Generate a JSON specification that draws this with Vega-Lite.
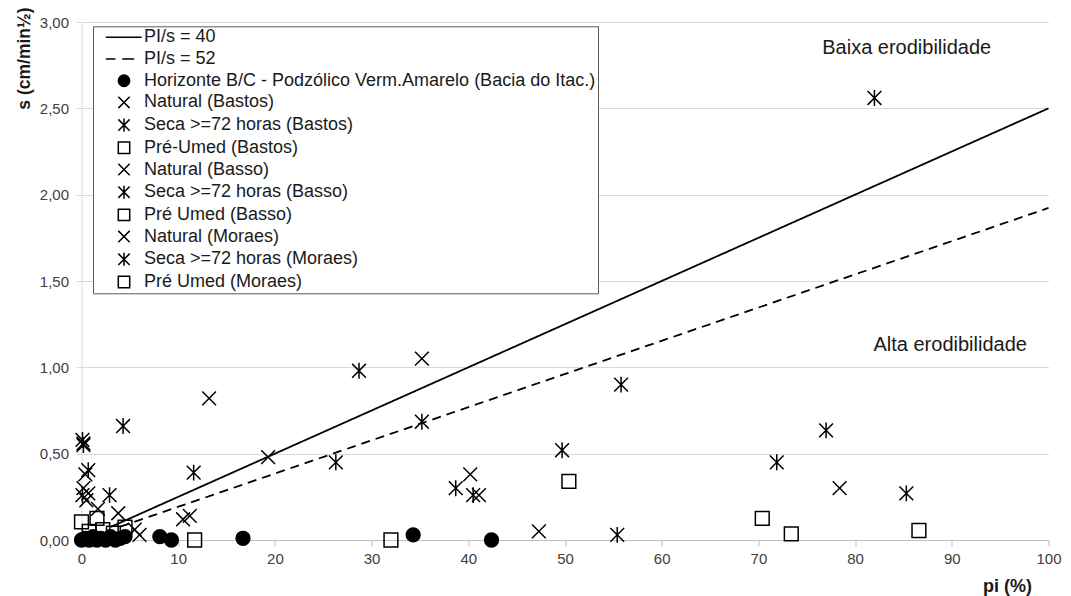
{
  "$schema": "https://vega.github.io/schema/vega-lite/v6.json",
  "width": 967,
  "height": 518,
  "autosize": "none",
  "padding": {"left": 81.5, "top": 22, "right": 22.5, "bottom": 56},
  "background": "white",
  "config": {
    "font": "Liberation Sans",
    "view": {"stroke": null}
  },
  "datasets": {
    "lines": [
      {"serie": "PI/s = 40", "pi": 3, "s": 0.075},
      {"serie": "PI/s = 40", "pi": 100, "s": 2.5},
      {"serie": "PI/s = 52", "pi": 4, "s": 0.077},
      {"serie": "PI/s = 52", "pi": 100, "s": 1.923}
    ],
    "points": [
      {"serie": "Natural (Bastos)", "pi": 35.2, "s": 1.05},
      {"serie": "Natural (Bastos)", "pi": 19.3, "s": 0.48},
      {"serie": "Natural (Bastos)", "pi": 40.2, "s": 0.38},
      {"serie": "Natural (Bastos)", "pi": 13.2, "s": 0.82},
      {"serie": "Natural (Bastos)", "pi": 78.4, "s": 0.30},
      {"serie": "Natural (Bastos)", "pi": 0.4, "s": 0.38},
      {"serie": "Natural (Basso)", "pi": 41.1, "s": 0.26},
      {"serie": "Natural (Basso)", "pi": 47.3, "s": 0.05},
      {"serie": "Natural (Basso)", "pi": 10.5, "s": 0.12},
      {"serie": "Natural (Basso)", "pi": 11.2, "s": 0.14},
      {"serie": "Natural (Basso)", "pi": 6.0, "s": 0.03},
      {"serie": "Natural (Basso)", "pi": 0.2, "s": 0.30},
      {"serie": "Natural (Moraes)", "pi": 3.8, "s": 0.155},
      {"serie": "Natural (Moraes)", "pi": 1.7, "s": 0.18},
      {"serie": "Natural (Moraes)", "pi": 0.5, "s": 0.23},
      {"serie": "Natural (Moraes)", "pi": 0.7, "s": 0.27},
      {"serie": "Natural (Moraes)", "pi": 0.2, "s": 0.56},
      {"serie": "Natural (Moraes)", "pi": 5.5, "s": 0.06},
      {"serie": "Seca >=72 horas (Bastos)", "pi": 82, "s": 2.56},
      {"serie": "Seca >=72 horas (Bastos)", "pi": 28.7, "s": 0.98},
      {"serie": "Seca >=72 horas (Bastos)", "pi": 35.2, "s": 0.685},
      {"serie": "Seca >=72 horas (Bastos)", "pi": 26.3, "s": 0.45},
      {"serie": "Seca >=72 horas (Bastos)", "pi": 55.8, "s": 0.90},
      {"serie": "Seca >=72 horas (Bastos)", "pi": 0.1, "s": 0.58},
      {"serie": "Seca >=72 horas (Bastos)", "pi": 0.7, "s": 0.405},
      {"serie": "Seca >=72 horas (Basso)", "pi": 38.7, "s": 0.30},
      {"serie": "Seca >=72 horas (Basso)", "pi": 40.5, "s": 0.26},
      {"serie": "Seca >=72 horas (Basso)", "pi": 49.7, "s": 0.52},
      {"serie": "Seca >=72 horas (Basso)", "pi": 55.4, "s": 0.03},
      {"serie": "Seca >=72 horas (Basso)", "pi": 11.6, "s": 0.39},
      {"serie": "Seca >=72 horas (Basso)", "pi": 0.2, "s": 0.55},
      {"serie": "Seca >=72 horas (Moraes)", "pi": 77.0, "s": 0.635},
      {"serie": "Seca >=72 horas (Moraes)", "pi": 71.9, "s": 0.45},
      {"serie": "Seca >=72 horas (Moraes)", "pi": 85.3, "s": 0.27},
      {"serie": "Seca >=72 horas (Moraes)", "pi": 4.3, "s": 0.66},
      {"serie": "Seca >=72 horas (Moraes)", "pi": 2.9, "s": 0.26},
      {"serie": "Seca >=72 horas (Moraes)", "pi": 0.1, "s": 0.26},
      {"serie": "Pré-Umed (Bastos)", "pi": 32.0, "s": 0.0},
      {"serie": "Pré-Umed (Bastos)", "pi": 50.4, "s": 0.34},
      {"serie": "Pré-Umed (Bastos)", "pi": 11.7, "s": 0.0},
      {"serie": "Pré-Umed (Bastos)", "pi": 0.0, "s": 0.105},
      {"serie": "Pré Umed (Basso)", "pi": 70.4, "s": 0.125},
      {"serie": "Pré Umed (Basso)", "pi": 73.4, "s": 0.035},
      {"serie": "Pré Umed (Basso)", "pi": 1.6, "s": 0.125},
      {"serie": "Pré Umed (Basso)", "pi": 0.8, "s": 0.05},
      {"serie": "Pré Umed (Moraes)", "pi": 86.6, "s": 0.055},
      {"serie": "Pré Umed (Moraes)", "pi": 4.5, "s": 0.075},
      {"serie": "Pré Umed (Moraes)", "pi": 2.2, "s": 0.06},
      {"serie": "Pré Umed (Moraes)", "pi": 3.3, "s": 0.04},
      {"serie": "Horizonte B/C - Podzólico Verm.Amarelo (Bacia do Itac.)", "pi": 0.0, "s": 0.0},
      {"serie": "Horizonte B/C - Podzólico Verm.Amarelo (Bacia do Itac.)", "pi": 0.4, "s": 0.01},
      {"serie": "Horizonte B/C - Podzólico Verm.Amarelo (Bacia do Itac.)", "pi": 0.8, "s": 0.0},
      {"serie": "Horizonte B/C - Podzólico Verm.Amarelo (Bacia do Itac.)", "pi": 1.2, "s": 0.02},
      {"serie": "Horizonte B/C - Podzólico Verm.Amarelo (Bacia do Itac.)", "pi": 1.6, "s": 0.0},
      {"serie": "Horizonte B/C - Podzólico Verm.Amarelo (Bacia do Itac.)", "pi": 2.0, "s": 0.01},
      {"serie": "Horizonte B/C - Podzólico Verm.Amarelo (Bacia do Itac.)", "pi": 2.5, "s": 0.0},
      {"serie": "Horizonte B/C - Podzólico Verm.Amarelo (Bacia do Itac.)", "pi": 3.0, "s": 0.02},
      {"serie": "Horizonte B/C - Podzólico Verm.Amarelo (Bacia do Itac.)", "pi": 3.5, "s": 0.0},
      {"serie": "Horizonte B/C - Podzólico Verm.Amarelo (Bacia do Itac.)", "pi": 4.0, "s": 0.01},
      {"serie": "Horizonte B/C - Podzólico Verm.Amarelo (Bacia do Itac.)", "pi": 4.5, "s": 0.02},
      {"serie": "Horizonte B/C - Podzólico Verm.Amarelo (Bacia do Itac.)", "pi": 8.1, "s": 0.02},
      {"serie": "Horizonte B/C - Podzólico Verm.Amarelo (Bacia do Itac.)", "pi": 9.3, "s": 0.0},
      {"serie": "Horizonte B/C - Podzólico Verm.Amarelo (Bacia do Itac.)", "pi": 16.7, "s": 0.01},
      {"serie": "Horizonte B/C - Podzólico Verm.Amarelo (Bacia do Itac.)", "pi": 34.3, "s": 0.03},
      {"serie": "Horizonte B/C - Podzólico Verm.Amarelo (Bacia do Itac.)", "pi": 42.4, "s": 0.0}
    ],
    "notes": [
      {"label": "Baixa erodibilidade", "pi": 76.6, "s": 2.85},
      {"label": "Alta erodibilidade", "pi": 81.9, "s": 1.13}
    ]
  },
  "encoding": {
    "x": {
      "field": "pi", "type": "quantitative",
      "scale": {"domain": [0, 100], "nice": false, "zero": true},
      "axis": {
        "title": "pi (%)",
        "values": [0, 10, 20, 30, 40, 50, 60, 70, 80, 90, 100],
        "grid": false,
        "domainColor": "#bfbfbf",
        "tickColor": "#bfbfbf",
        "tickSize": 6,
        "labelPadding": 5,
        "labelFontSize": 15,
        "labelColor": "#404040",
        "labelFlush": false,
        "titleFontSize": 18,
        "titleFontWeight": "bold",
        "titleColor": "#1a1a1a",
        "titleAlign": "right",
        "titleBaseline": "alphabetic",
        "titleX": 950,
        "titleY": 51
      }
    },
    "y": {
      "field": "s", "type": "quantitative",
      "scale": {"domain": [0, 3], "nice": false},
      "axis": {
        "title": "s (cm/min½)",
        "values": [0, 0.5, 1, 1.5, 2, 2.5, 3],
        "labelExpr": "replace(format(datum.value, '.2f'), '.', ',')",
        "grid": true,
        "gridColor": "#d9d9d9",
        "domainColor": "#d9d9d9",
        "tickColor": "#d9d9d9",
        "tickSize": 5,
        "labelPadding": 8,
        "labelFontSize": 15,
        "labelColor": "#404040",
        "titleFontSize": 17.5,
        "titleFontWeight": "bold",
        "titleColor": "#1a1a1a",
        "titleAngle": -90,
        "titleAlign": "right",
        "titleBaseline": "bottom",
        "titleX": -48,
        "titleY": -15
      }
    }
  },
  "layer": [
    {
      "data": {"name": "lines"},
      "mark": {"type": "line", "color": "black", "strokeWidth": 1.8},
      "encoding": {
        "strokeDash": {
          "field": "serie", "type": "nominal",
          "scale": {"domain": ["PI/s = 40", "PI/s = 52"], "range": [[1, 0], [9, 6]]},
          "legend": null
        }
      }
    },
    {
      "data": {"name": "points"},
      "mark": {"type": "point", "filled": false, "strokeWidth": 1.5, "size": 190, "opacity": 1},
      "encoding": {
        "shape": {
          "field": "serie", "type": "nominal",
          "scale": {
            "domain": ["PI/s = 40", "PI/s = 52", "Horizonte B/C - Podzólico Verm.Amarelo (Bacia do Itac.)", "Natural (Bastos)", "Seca >=72 horas (Bastos)", "Pré-Umed (Bastos)", "Natural (Basso)", "Seca >=72 horas (Basso)", "Pré Umed (Basso)", "Natural (Moraes)", "Seca >=72 horas (Moraes)", "Pré Umed (Moraes)"],
            "range": ["M-3.2,0H3.1", "M-3.2,0H-1.5M-0.3,0H1.8", "circle", "M-1,-1L1,1M-1,1L1,-1", "M-1,-1L1,1M-1,1L1,-1M0,-1.15L0,1.15", "square", "M-1,-1L1,1M-1,1L1,-1", "M-1,-1L1,1M-1,1L1,-1M0,-1.15L0,1.15", "square", "M-1,-1L1,1M-1,1L1,-1", "M-1,-1L1,1M-1,1L1,-1M0,-1.15L0,1.15", "square"]
          },
          "legend": {
            "title": null, "orient": "none", "legendX": 11.5, "legendY": 4.3,
            "padding": 2, "strokeColor": "#595959", "fillColor": "white",
            "symbolSize": 130, "symbolOffset": 20, "labelOffset": 11,
            "labelFontSize": 18, "labelColor": "#1a1a1a", "rowPadding": 3.7, "labelLimit": 700,
            "symbolStrokeWidth": 1.5
          }
        },
        "fill": {
          "field": "serie", "type": "nominal",
          "scale": {
            "domain": ["PI/s = 40", "PI/s = 52", "Horizonte B/C - Podzólico Verm.Amarelo (Bacia do Itac.)", "Natural (Bastos)", "Seca >=72 horas (Bastos)", "Pré-Umed (Bastos)", "Natural (Basso)", "Seca >=72 horas (Basso)", "Pré Umed (Basso)", "Natural (Moraes)", "Seca >=72 horas (Moraes)", "Pré Umed (Moraes)"],
            "range": ["transparent", "transparent", "black", "transparent", "transparent", "transparent", "transparent", "transparent", "transparent", "transparent", "transparent", "transparent"]
          },
          "legend": {
            "title": null, "orient": "none", "legendX": 11.5, "legendY": 4.3,
            "padding": 2, "strokeColor": "#595959", "fillColor": "white",
            "symbolSize": 130, "symbolOffset": 20, "labelOffset": 11,
            "labelFontSize": 18, "labelColor": "#1a1a1a", "rowPadding": 3.7, "labelLimit": 700,
            "symbolStrokeWidth": 1.5
          }
        },
        "stroke": {
          "field": "serie", "type": "nominal",
          "scale": {
            "domain": ["PI/s = 40", "PI/s = 52", "Horizonte B/C - Podzólico Verm.Amarelo (Bacia do Itac.)", "Natural (Bastos)", "Seca >=72 horas (Bastos)", "Pré-Umed (Bastos)", "Natural (Basso)", "Seca >=72 horas (Basso)", "Pré Umed (Basso)", "Natural (Moraes)", "Seca >=72 horas (Moraes)", "Pré Umed (Moraes)"],
            "range": ["black", "black", "black", "black", "black", "black", "black", "black", "black", "black", "black", "black"]
          },
          "legend": {
            "title": null, "orient": "none", "legendX": 11.5, "legendY": 4.3,
            "padding": 2, "strokeColor": "#595959", "fillColor": "white",
            "symbolSize": 130, "symbolOffset": 20, "labelOffset": 11,
            "labelFontSize": 18, "labelColor": "#1a1a1a", "rowPadding": 3.7, "labelLimit": 700,
            "symbolStrokeWidth": 1.5
          }
        }
      }
    },
    {
      "data": {"name": "notes"},
      "mark": {"type": "text", "align": "left", "baseline": "middle", "fontSize": 20, "color": "#1a1a1a", "font": "Liberation Sans"},
      "encoding": {"text": {"field": "label", "type": "nominal"}}
    }
  ]
}
